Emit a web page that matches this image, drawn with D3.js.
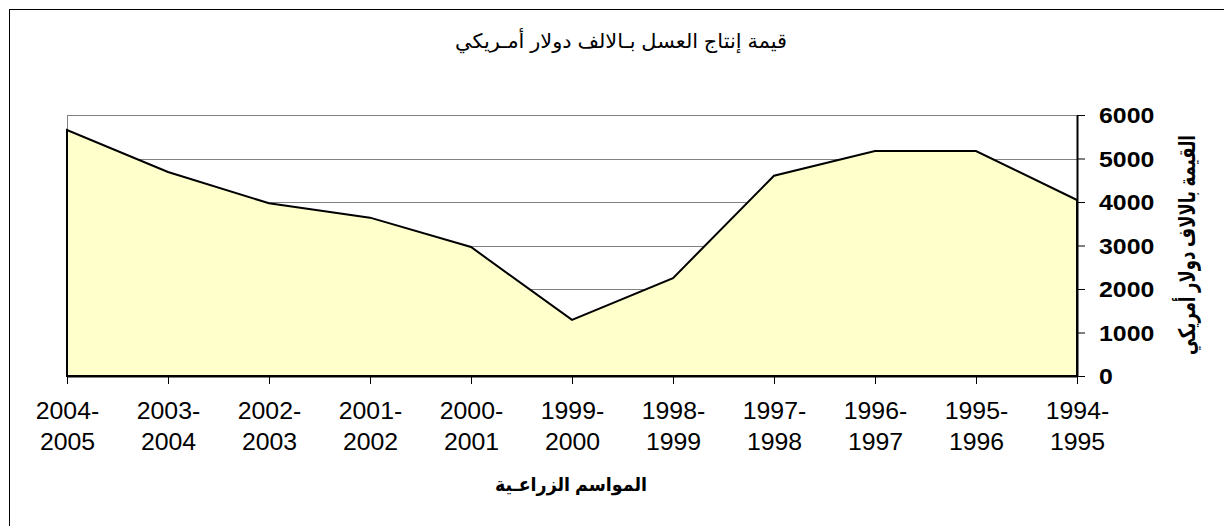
<!DOCTYPE html>
<html>
<head>
<meta charset="utf-8">
<script src="https://cdn.jsdelivr.net/npm/d3@7"></script>
<style>
  body { margin: 0; background: #fff; }
  svg { display: block; font-family: "Liberation Sans", "DejaVu Sans", Arial, sans-serif; }
</style>
</head>
<body>
<div id="chart"></div>
<script>
// seasons (chronological), drawn right to left like the original
var seasons = ['1994-1995', '1995-1996', '1996-1997', '1997-1998', '1998-1999',
    '1999-2000', '2000-2001', '2001-2002', '2002-2003', '2003-2004', '2004-2005'];
// value of honey production, thousand US dollars
var honeyValue = [4046, 5172, 5172, 4605, 2250, 1290, 2965, 3640, 3970, 4690, 5655];
var yTicks = [0, 1000, 2000, 3000, 4000, 5000, 6000];

var chartTitle = 'قيمة إنتاج العسل بـالالف دولار أمـريكي';
var xTitle = 'المواسم الزراعـية';
var yTitle = 'القيمة بالالاف دولار أمريكي';

var width = 1224, height = 526;
//plot area edges
var plotLeft = 67, plotRight = 1077, plotTop = 115, plotBottom = 376;

var data = seasons.map(function (s, i) {
    return { season: s, value: honeyValue[i] };
});

var svg = d3.select('#chart').append('svg')
    .attr('width', width)
    .attr('height', height);

//outer chart frame (runs off the bottom/right of the picture)
svg.append('rect')
    .attr('x', 9.5).attr('y', 9.5)
    .attr('width', 1240).attr('height', 540)
    .attr('fill', 'none')
    .attr('stroke', '#000');

var x = d3.scalePoint().domain(seasons).range([plotRight, plotLeft]);
var y = d3.scaleLinear().domain([0, 6000]).range([plotBottom, plotTop]);

//gridlines (the 6000 one doubles as the plot area top border)
svg.append('g')
    .selectAll('line')
    .data(yTicks.filter(function (d) { return d > 0; }))
    .enter()
    .append('line')
    .attr('x1', plotLeft).attr('x2', plotRight)
    .attr('y1', function (d) { return Math.round(y(d)) + 0.5; })
    .attr('y2', function (d) { return Math.round(y(d)) + 0.5; })
    .attr('stroke', '#808080')
    .attr('stroke-width', 1);

//plot area left border
svg.append('line')
    .attr('x1', plotLeft + 0.5).attr('x2', plotLeft + 0.5)
    .attr('y1', plotTop).attr('y2', plotBottom)
    .attr('stroke', '#808080');

//area
var area = d3.area()
    .x(function (d) { return x(d.season); })
    .y0(y(0))
    .y1(function (d) { return y(d.value); });

svg.append('path')
    .datum(data)
    .attr('d', area)
    .attr('fill', '#FFFFCC')
    .attr('stroke', '#000')
    .attr('stroke-width', 2)
    .attr('stroke-linejoin', 'miter');

//right value axis
var yAxis = svg.append('g')
    .attr('transform', 'translate(' + plotRight + ',0)')
    .call(d3.axisRight(y).tickValues(yTicks).tickFormat(d3.format('d'))
        .tickSize(8).tickPadding(22).tickSizeOuter(0));
yAxis.select('.domain').attr('stroke', '#000').attr('stroke-width', 2);
yAxis.selectAll('.tick line').attr('stroke', '#000');
yAxis.selectAll('.tick text')
    .attr('font-family', '"Liberation Sans", Arial, sans-serif')
    .attr('font-size', 22)
    .attr('font-weight', 'bold')
    .attr('fill', '#000')
    .attr('dy', '0.36em')
    .attr('x', 22 / 1.13)
    .attr('transform', 'scale(1.13,1)');

//bottom category axis
var xAxis = svg.append('g')
    .attr('transform', 'translate(0,' + plotBottom + ')')
    .call(d3.axisBottom(x).tickSize(8).tickSizeOuter(0).tickFormat(''));
xAxis.select('.domain').attr('stroke', '#000').attr('stroke-width', 2);
xAxis.selectAll('.tick line').attr('stroke', '#000');
xAxis.selectAll('.tick text').remove();
var tickLabel = xAxis.selectAll('.tick')
    .append('text')
    .attr('font-family', '"Liberation Sans", Arial, sans-serif')
    .attr('font-size', 23)
    .attr('fill', '#000')
    .attr('text-anchor', 'middle')
    .attr('transform', 'scale(1.08,1)');
tickLabel.append('tspan')
    .attr('x', 0).attr('y', 43)
    .text(function (d) { return d.split('-')[0] + '-'; });
tickLabel.append('tspan')
    .attr('x', 0).attr('y', 74)
    .text(function (d) { return d.split('-')[1]; });

//titles
svg.append('text')
    .attr('x', 621).attr('y', 48)
    .attr('text-anchor', 'middle')
    .attr('font-size', 20)
    .attr('textLength', 332)
    .attr('lengthAdjust', 'spacingAndGlyphs')
    .text(chartTitle);

svg.append('text')
    .attr('x', 571).attr('y', 491)
    .attr('text-anchor', 'middle')
    .attr('font-size', 19)
    .attr('font-weight', 'bold')
    .attr('textLength', 152)
    .attr('lengthAdjust', 'spacingAndGlyphs')
    .text(xTitle);

svg.append('text')
    .attr('transform', 'translate(1195,245) rotate(-90)')
    .attr('text-anchor', 'middle')
    .attr('font-size', 23)
    .attr('font-weight', 'bold')
    .attr('textLength', 220)
    .attr('lengthAdjust', 'spacingAndGlyphs')
    .text(yTitle);
</script>
</body>
</html>
